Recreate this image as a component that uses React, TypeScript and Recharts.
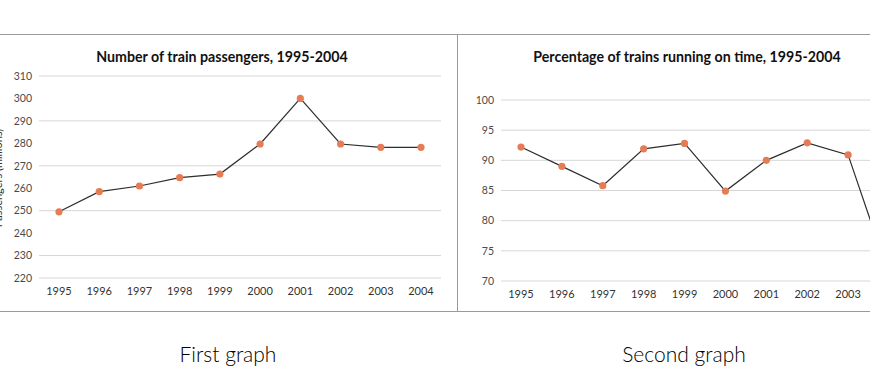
import { LineChart, Line, XAxis, YAxis, CartesianGrid } from 'recharts';

const years = ['1995', '1996', '1997', '1998', '1999', '2000', '2001', '2002', '2003', '2004'];
const passengers = [249.5, 258.5, 261, 264.7, 266.3, 279.7, 300, 279.7, 278.2, 278.2];
const onTime = [92.2, 89, 85.8, 91.9, 92.8, 84.9, 90, 92.9, 90.9, 71];
const passengerTicks = [220, 230, 240, 250, 260, 270, 280, 290, 300, 310];
const onTimeTicks = [70, 75, 80, 85, 90, 95, 100];

const passengerData = years.map((year, i) => ({ year, value: passengers[i] }));
const onTimeData = years.map((year, i) => ({ year, value: onTime[i] }));

const FONT = 'Lato, "Open Sans", sans-serif';
const LINE = '#2d2d2d';
const DOT = '#e67c55';
const GRID = '#d6d6d6';
const tick = { fontSize: 10.5, fill: '#4a4a4a', fontFamily: FONT };
const xTick = { fontSize: 11, fill: '#333', fontFamily: FONT };

export default function App() {
  return (
    <div
      style={{
        position: 'fixed',
        left: 0,
        top: 0,
        width: 870,
        height: 386,
        overflow: 'hidden',
        background: '#fff',
      }}
    >
      {/* panel borders */}
      <div style={{ position: 'absolute', left: 0, top: 34, width: 870, height: 1, background: '#9a9a9a' }} />
      <div style={{ position: 'absolute', left: 0, top: 311, width: 870, height: 1, background: '#9a9a9a' }} />
      <div style={{ position: 'absolute', left: 457, top: 34, width: 1, height: 278, background: '#9a9a9a' }} />

      <div style={{ position: 'absolute', left: 0, top: 35 }}>
        <LineChart
          width={457}
          height={275}
          data={passengerData}
          margin={{ top: 41, right: 16, left: 0, bottom: 8 }}
        >
          <CartesianGrid vertical={false} stroke={GRID} />
          <XAxis
            dataKey="year"
            padding={{ left: 20, right: 20 }}
            axisLine={false}
            tickLine={false}
            tickSize={0}
            tickMargin={9}
            height={24}
            tick={xTick}
            interval={0}
          />
          <YAxis
            domain={[220, 310]}
            ticks={passengerTicks}
            axisLine={false}
            tickLine={false}
            tickSize={0}
            tickMargin={7}
            width={39}
            tick={tick}
          />
          <Line
            dataKey="value"
            stroke={LINE}
            strokeWidth={1.2}
            dot={{ r: 3.6, fill: DOT, stroke: DOT, strokeWidth: 0 }}
            isAnimationActive={false}
          />
        </LineChart>
      </div>

      <div style={{ position: 'absolute', left: 458, top: 35 }}>
        <LineChart
          width={470}
          height={275}
          data={onTimeData}
          margin={{ top: 65, right: 19, left: 0, bottom: 5 }}
        >
          <CartesianGrid vertical={false} stroke={GRID} />
          <XAxis
            dataKey="year"
            padding={{ left: 20, right: 20 }}
            axisLine={false}
            tickLine={false}
            tickSize={0}
            tickMargin={9}
            height={24}
            tick={xTick}
            interval={0}
          />
          <YAxis
            domain={[70, 100]}
            ticks={onTimeTicks}
            axisLine={false}
            tickLine={false}
            tickSize={0}
            tickMargin={7}
            width={43}
            tick={tick}
          />
          <Line
            dataKey="value"
            stroke={LINE}
            strokeWidth={1.2}
            dot={{ r: 3.6, fill: DOT, stroke: DOT, strokeWidth: 0 }}
            isAnimationActive={false}
          />
        </LineChart>
      </div>

      <svg
        width={870}
        height={386}
        style={{ position: 'absolute', left: 0, top: 0, pointerEvents: 'none' }}
      >
        <text x={222} y={62} textAnchor="middle" fontFamily={FONT} fontWeight={700} fontSize={14.2} fill="#111">
          Number of train passengers, 1995-2004
        </text>
        <text x={687} y={62} textAnchor="middle" fontFamily={FONT} fontWeight={700} fontSize={14.2} fill="#111">
          Percentage of trains running on time, 1995-2004
        </text>
        <text
          transform="translate(2,178) rotate(-90)"
          textAnchor="middle"
          fontFamily={FONT}
          fontSize={11}
          fill="#333"
        >
          Passengers (millions)
        </text>
        <text x={228} y={362} textAnchor="middle" fontFamily={FONT} fontWeight={300} fontSize={21} fill="#000">
          First graph
        </text>
        <text x={684} y={362} textAnchor="middle" fontFamily={FONT} fontWeight={300} fontSize={21} fill="#000">
          Second graph
        </text>
      </svg>
    </div>
  );
}
